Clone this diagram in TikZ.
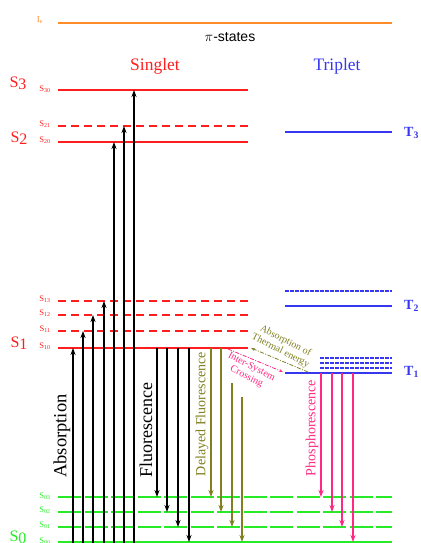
\documentclass[tikz,border=0pt]{standalone}
\usepackage{fontspec}
\setmainfont{Liberation Serif}
\newfontfamily\sansf{Liberation Sans}
\usetikzlibrary{arrows.meta}
\definecolor{myred}{RGB}{255,30,30}
\definecolor{myblue}{RGB}{55,55,240}
\definecolor{mygreen}{RGB}{40,235,40}
\definecolor{myolive}{RGB}{128,128,32}
\definecolor{mypink}{RGB}{255,40,130}
\definecolor{myorange}{RGB}{255,140,40}
\tikzset{
  lvl/.style={line width=1.4pt},
  sdash/.style={lvl, dash pattern=on 8pt off 5pt},
  tdash/.style={line width=1.1pt, dash pattern=on 3.5pt off 1.5pt},
  gdash/.style={line width=1.8pt, color=mygreen, dash pattern=on 23pt off 3.5pt},
  arr/.style={line width=1.1pt, -{Stealth[length=7pt,width=5pt]}},
  small/.style={font=\fontsize{8.5}{8.5}\selectfont, inner sep=0pt},
  big/.style={font=\fontsize{16}{16}\selectfont, inner sep=0pt},
  tlab/.style={font=\fontsize{14}{14}\selectfont\bfseries, text=myblue, inner sep=0pt, anchor=west},
  vtext/.style={rotate=90, inner sep=0pt},
  ddot/.style={line width=0.8pt, dash pattern=on 4pt off 1.5pt on 1pt off 1.5pt, -{Stealth[length=4pt,width=3pt]}},
  slab/.style={font=\fontsize{10}{11}\selectfont, align=center, rotate=-27, inner sep=0pt}
}
\begin{document}
\begin{tikzpicture}[x=1pt,y=-1pt]
\useasboundingbox (0,0) rectangle (420,543);
% ionisation level
\draw[lvl, myorange] (58,23) -- (392,23);
\node[font=\fontsize{9}{9}\selectfont, inner sep=0pt, text=myorange] (ie) at (40,20) {I\textsubscript{e}};
\node[font=\fontsize{14}{14}\selectfont\sansf, inner sep=0pt] (pi) at (230,37) {$\pi$-states};
\node[font=\fontsize{17.5}{17.5}\selectfont, text=myred, inner sep=0pt] (singlet) at (155,66) {Singlet};
\node[font=\fontsize{17.5}{17.5}\selectfont, text=myblue, inner sep=0pt] (triplet) at (337,66) {Triplet};
% singlet levels
\draw[lvl, myred] (58,90) -- (248,90);
\draw[sdash, myred] (58,126) -- (248,126);
\draw[lvl, myred] (58,142) -- (248,142);
\draw[sdash, myred] (58,301) -- (248,301);
\draw[sdash, myred] (58,315) -- (248,315);
\draw[sdash, myred] (58,331) -- (248,331);
\draw[lvl, myred] (58,348) -- (248,348);
% triplet levels
\draw[lvl, myblue] (285,132) -- (392,132);
\draw[tdash, myblue] (285,291) -- (392,291);
\draw[lvl, myblue] (285,306) -- (392,306);
\draw[tdash, myblue] (320,358) -- (392,358);
\draw[tdash, myblue] (320,363) -- (392,363);
\draw[tdash, myblue] (320,368) -- (392,368);
\draw[lvl, myblue] (285,373) -- (392,373);
% ground levels
\draw[gdash] (58,497) -- (392,497);
\draw[gdash] (58,512) -- (392,512);
\draw[gdash] (58,527) -- (392,527);
\draw[line width=1.8pt, mygreen] (58,542) -- (392,542);
% big labels
\node[big, text=myred] (S3) at (18,83) {S\raisebox{-2pt}{3}};
\node[big, text=myred] (S2) at (19,138) {S\raisebox{-2pt}{2}};
\node[big, text=myred] (S1) at (19,343) {S\raisebox{-2pt}{1}};
\node[big, text=mygreen] (S0) at (18,537) {S\raisebox{-2pt}{0}};
% small labels
\foreach \y/\t [count=\i] in {89/30,124/21,140/20,299/13,313/12,329/11,346/10}
  \node[small, text=myred] (sl\i) at (45,\y) {S\textsubscript{\t}};
\foreach \y/\t [count=\i] in {496/03,510/02,525/01,541/00}
  \node[small, text=mygreen] (gl\i) at (45,\y) {S\textsubscript{\t}};
% T labels
\node[tlab] (T3) at (404,133) {T\textsubscript{3}};
\node[tlab] (T2) at (404,306) {T\textsubscript{2}};
\node[tlab] (T1) at (404,372) {T\textsubscript{1}};
% absorption
\foreach \x/\y [count=\i] in {73/348,83/331,93/315,104/301,114/142,124/126,134/90} {
  \coordinate (ab\i s) at (\x,543);
  \coordinate (ab\i e) at (\x,\y);
  \draw[arr] (ab\i s) -- (ab\i e);
}
\node[vtext, font=\fontsize{18.5}{18.5}\selectfont] (abs) at (62,436) {Absorption};
% fluorescence
\foreach \x/\y [count=\i] in {157/497,167/512,178/527,189/542} {
  \coordinate (fl\i s) at (\x,348);
  \coordinate (fl\i e) at (\x,\y);
  \draw[arr] (fl\i s) -- (fl\i e);
}
\node[vtext, font=\fontsize{18}{18}\selectfont] (flu) at (146,430) {Fluorescence};
% delayed fluorescence
\foreach \x/\s/\y [count=\i] in {211/348/497,221/348/512,232/383/527,242/397/542} {
  \coordinate (df\i s) at (\x,\s);
  \coordinate (df\i e) at (\x,\y);
  \draw[arr, myolive] (df\i s) -- (df\i e);
}
\node[vtext, font=\fontsize{14}{14}\selectfont, text=myolive] (dfl) at (202,414) {Delayed Fluorescence};
% phosphorescence
\foreach \x/\y [count=\i] in {321/497,332/512,342/527,353/542} {
  \coordinate (ph\i s) at (\x,373);
  \coordinate (ph\i e) at (\x,\y);
  \draw[arr, mypink] (ph\i s) -- (ph\i e);
}
\node[vtext, font=\fontsize{14}{14}\selectfont, text=mypink] (pho) at (312,428) {Phosphorescence};
% inter-system crossing and thermal absorption
\coordinate (iscS) at (228,349);
\coordinate (iscE) at (283,372);
\draw[ddot, mypink] (iscS) -- (iscE);
\coordinate (thS) at (308,372);
\coordinate (thE) at (251,348);
\draw[ddot, myolive] (thS) -- (thE);
\node[slab, text=mypink] (isc) at (249,372) {Inter-System\\Crossing};
\node[slab, text=myolive] (th) at (283,346) {Absorption of\\Thermal energy};
\end{tikzpicture}
\end{document}
